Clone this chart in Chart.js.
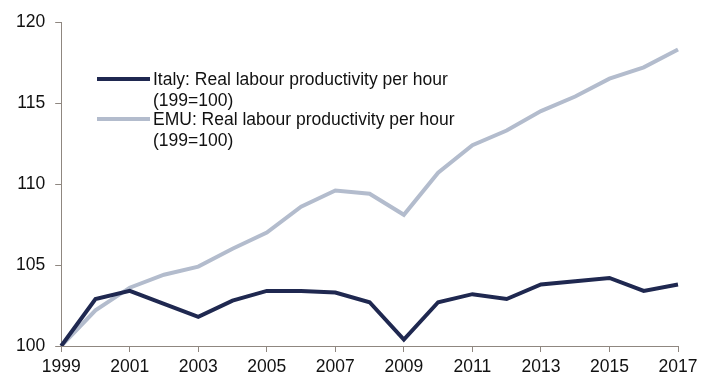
<!DOCTYPE html>
<html>
<head>
<meta charset="utf-8">
<script src="https://cdn.jsdelivr.net/npm/chart.js@4"></script>
<style>
  html, body { margin: 0; padding: 0; background: #fff; }
  #wrap { width: 714px; height: 378px; }
</style>
</head>
<body>
<div id="wrap"><canvas id="myChart" width="714" height="378"></canvas></div>
<script>
const years = ["1999","2000","2001","2002","2003","2004","2005","2006","2007","2008","2009",
  "2010","2011","2012","2013","2014","2015","2016","2017"];
const italy = [100, 102.9, 103.4, 102.6, 101.8, 102.8, 103.4, 103.4, 103.3, 102.7, 100.4,
  102.7, 103.2, 102.9, 103.8, 104.0, 104.2, 103.4, 103.8];
const emu = [100, 102.2, 103.6, 104.4, 104.9, 106.0, 107.0, 108.6, 109.6, 109.4, 108.1,
  110.7, 112.4, 113.3, 114.5, 115.4, 116.5, 117.2, 118.3];
const seriesNames = [
  ["Italy: Real labour productivity per hour", "(199=100)"],
  ["EMU: Real labour productivity per hour", "(199=100)"]
];

const axisColor = "#8f8780";
const font = "Liberation Sans, Arial, sans-serif";

// legend drawn inside the plot area, top-left
const innerLegend = {
  id: "innerLegend",
  afterDraw(chart) {
    const ctx = chart.ctx;
    ctx.save();
    ctx.font = "17.5px " + font;
    ctx.textBaseline = "middle";
    ctx.fillStyle = "#111";
    chart.data.datasets.forEach((ds, i) => {
      const y = 79 + i * 40;
      ctx.strokeStyle = ds.borderColor;
      ctx.lineWidth = 4;
      ctx.beginPath();
      ctx.moveTo(97, y);
      ctx.lineTo(150, y);
      ctx.stroke();
      seriesNames[i].forEach((t, j) => ctx.fillText(t, 153, y + 1 + j * 21));
    });
    ctx.restore();
  }
};

let ctx = document.getElementById("myChart").getContext("2d");
let chart = new Chart(ctx, {
  type: "line",
  data: {
    labels: years,
    datasets: [
      {
        label: "Italy",
        data: italy,
        borderColor: "#1f2850",
        borderWidth: 4,
        pointRadius: 0,
        tension: 0,
      },
      {
        label: "EMU",
        data: emu,
        borderColor: "#b3bccd",
        borderWidth: 4,
        pointRadius: 0,
        tension: 0,
      },
    ],
  },
  options: {
    responsive: false,
    animation: false,
    layout: { padding: { top: 22, right: 36, left: 6, bottom: -5 } },
    plugins: { legend: { display: false }, tooltip: { enabled: false } },
    scales: {
      x: {
        offset: false,
        grid: { drawOnChartArea: false, color: axisColor, tickLength: 6 },
        border: { color: axisColor, width: 1 },
        ticks: {
          autoSkip: false,
          maxRotation: 0,
          padding: 5,
          color: "#111",
          font: { family: font, size: 17.5 },
          callback: (v, i) => (i % 2 === 0 ? years[i] : null),
        },
      },
      y: {
        min: 100,
        max: 120,
        grid: { drawOnChartArea: false, color: axisColor, tickLength: 6 },
        border: { color: axisColor, width: 1 },
        ticks: {
          stepSize: 5,
          padding: 10,
          color: "#111",
          font: { family: font, size: 17.5 },
        },
      },
    },
  },
  plugins: [innerLegend],
});
</script>
</body>
</html>
